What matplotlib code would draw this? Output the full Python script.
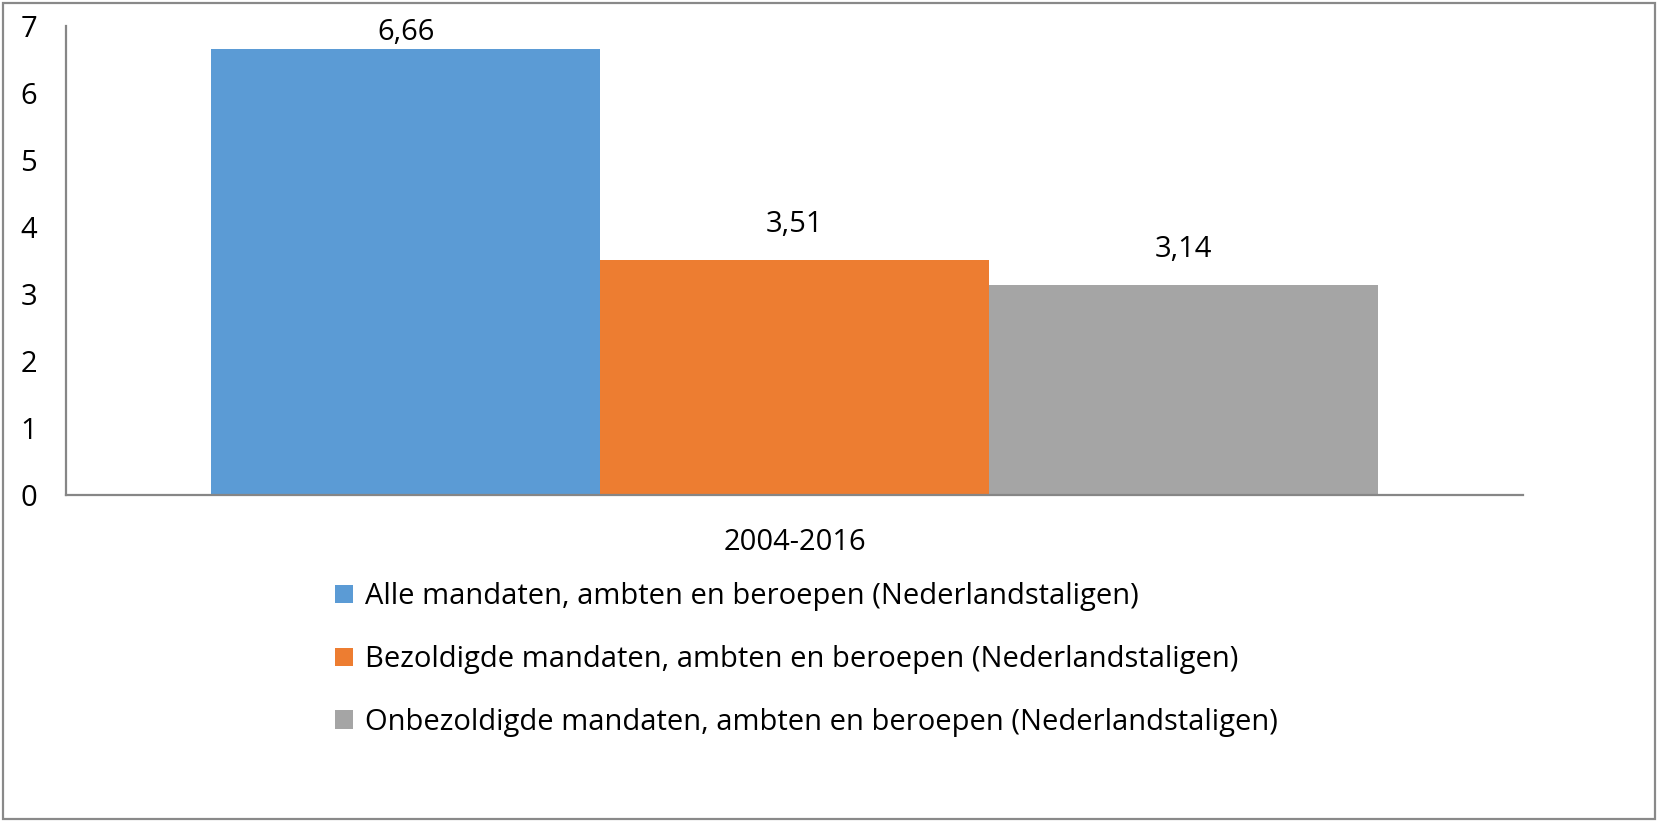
import matplotlib.pyplot as plt
from matplotlib.patches import Rectangle

plt.rcParams['font.family'] = ['Open Sans', 'DejaVu Sans']

# Data
period = "2004-2016"
series = [
    "Alle mandaten, ambten en beroepen (Nederlandstaligen)",
    "Bezoldigde mandaten, ambten en beroepen (Nederlandstaligen)",
    "Onbezoldigde mandaten, ambten en beroepen (Nederlandstaligen)",
]
values = [6.66, 3.51, 3.14]
labels = ["6,66", "3,51", "3,14"]
colors = ["#5B9BD5", "#ED7D31", "#A5A5A5"]
yticks = [0, 1, 2, 3, 4, 5, 6, 7]

fig = plt.figure(figsize=(16.6, 8.21), dpi=100)
ax = fig.add_axes([0.0398, 0.397, 0.8777, 0.571])

positions = [-1, 0, 1]
for pos, v, c, name in zip(positions, values, colors, series):
    ax.bar(pos, v, width=1.0, color=c, label=name, edgecolor='none')

# value labels (Excel style, about 35 px above the bar, kept inside plot)
for pos, v, lab in zip(positions, values, labels):
    y = min(v + 0.53, 6.9)
    ax.text(pos, y, lab, ha='center', va='center', fontsize=21)

ax.set_xlim(-1.873, 1.873)
ax.set_ylim(0, 7)
ax.set_yticks(yticks)
ax.set_yticklabels([str(t) for t in yticks], fontsize=21)
ax.tick_params(axis='y', length=0, pad=21)
ax.set_xticks([0])
ax.set_xticklabels([period], fontsize=21)
ax.tick_params(axis='x', length=0, pad=24)

for side in ['top', 'right']:
    ax.spines[side].set_visible(False)
for side in ['left', 'bottom']:
    ax.spines[side].set_color('#868686')
    ax.spines[side].set_linewidth(1.6)

fig.legend(loc='upper left', bbox_to_anchor=(0.195, 0.305),
           frameon=False, fontsize=21, handlelength=0.6,
           handleheight=0.6, handletextpad=0.4, labelspacing=1.16,
           borderaxespad=0)

# outer chart border
fig.patches.append(Rectangle((0.002, 0.003), 0.995, 0.993,
                             transform=fig.transFigure, fill=False,
                             edgecolor='#898989', linewidth=1.6))

fig.savefig('out.png', dpi=100)
